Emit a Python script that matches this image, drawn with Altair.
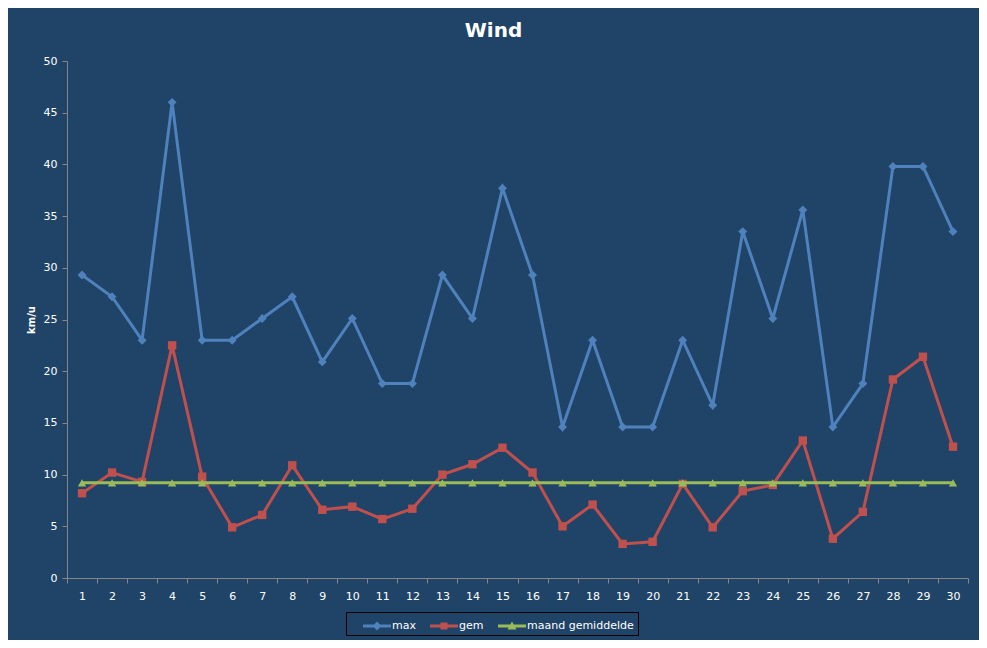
import altair as alt
import pandas as pd

# Daily wind (km/u)
days = list(range(1, 31))
max_wind = [29.3, 27.2, 23.0, 46.0, 23.0, 23.0, 25.1, 27.2, 20.9, 25.1,
            18.8, 18.8, 29.3, 25.1, 37.7, 29.3, 14.6, 23.0, 14.6, 14.6,
            23.0, 16.7, 33.5, 25.1, 35.6, 14.6, 18.8, 39.8, 39.8, 33.5]
gem_wind = [8.2, 10.2, 9.3, 22.5, 9.8, 4.9, 6.1, 10.9, 6.6, 6.9,
            5.7, 6.7, 10.0, 11.0, 12.6, 10.2, 5.0, 7.1, 3.3, 3.5,
            9.1, 4.9, 8.4, 9.0, 13.3, 3.8, 6.4, 19.2, 21.4, 12.7]
maand_gem = [9.2, 9.2, 9.2, 9.2, 9.2, 9.2, 9.2, 9.2, 9.2, 9.2,
             9.2, 9.2, 9.2, 9.2, 9.2, 9.2, 9.2, 9.2, 9.2, 9.2,
             9.2, 9.2, 9.2, 9.2, 9.2, 9.2, 9.2, 9.2, 9.2, 9.2]
y_ticks = [0, 5, 10, 15, 20, 25, 30, 35, 40, 45, 50]

series = ["max", "gem", "maand gemiddelde"]
colors = ["#4F81BD", "#C0504D", "#9BBB59"]
shapes = ["diamond", "square", "triangle-up"]
sizes = [80, 70, 70]

# legend symbols: a line with the marker in the middle
legend_line = "M0.3,-0.15H3.1V0.15H0.3Z"
legend_paths = [
    legend_line + "M1.7,-0.45L2.15,0L1.7,0.45L1.25,0Z",
    legend_line + "M1.35,-0.35H2.05V0.35H1.35Z",
    legend_line + "M1.7,-0.45L2.15,0.35H1.25Z",
]

rows = []
for name, vals in zip(series, [max_wind, gem_wind, maand_gem]):
    for d, v in zip(days, vals):
        rows.append({"day": d, "series": name, "value": v})
df = pd.DataFrame(rows)

axis_grey = "#868686"

x = alt.X("day:O", bandPosition=0.5,
          scale=alt.Scale(type="band", paddingInner=0, paddingOuter=0),
          axis=alt.Axis(title=None, labelAngle=0, tickBand="extent",
                        domainColor=axis_grey, tickColor=axis_grey, tickSize=5,
                        labelColor="white", labelFontSize=11, labelPadding=7))
y = alt.Y("value:Q", scale=alt.Scale(domain=[0, 50]),
          axis=alt.Axis(title="km/u", values=y_ticks, grid=False,
                        domainColor=axis_grey, tickColor=axis_grey, tickSize=5,
                        labelColor="white", labelFontSize=11, labelPadding=5,
                        titleColor="white", titleFontSize=10, titleFontWeight="bold",
                        titlePadding=7))

layers = []
for name, col, shp, sz in zip(series, colors, shapes, sizes):
    part = alt.Chart(df).transform_filter(alt.datum.series == name)
    layers.append(part.mark_line(color=col, strokeWidth=3).encode(x=x, y=y))
    layers.append(part.mark_point(shape=shp, filled=True, size=sz, color=col, opacity=1)
                  .encode(x=x, y=y))

leg = alt.Legend(title=None, orient="none", legendX=279, legendY=551,
                 direction="horizontal", strokeColor="black", padding=4,
                 symbolSize=400, symbolOpacity=1, labelOffset=22, columnPadding=1,
                 labelColor="white", labelFontSize=11, symbolStrokeWidth=0)

legend_layer = alt.Chart(df).transform_filter("datum.value < 0").mark_point(
    filled=True, opacity=1
).encode(
    x=x, y=y,
    color=alt.Color("series:N", scale=alt.Scale(domain=series, range=colors), legend=leg),
    shape=alt.Shape("series:N", scale=alt.Scale(domain=series, range=legend_paths), legend=leg),
)

chart = alt.layer(*layers, legend_layer).properties(
    width=901, height=517,
    title=alt.TitleParams("Wind", fontSize=20, fontWeight="bold", color="white",
                          anchor="middle", offset=14, dx=-24),
    background="#1F4468",
    padding={"left": 59, "top": 53, "right": 11, "bottom": 62},
    autosize=alt.AutoSizeParams(type="none"),
).configure(font="DejaVu Sans").configure_view(strokeWidth=0)

chart.save("out.html", embed_options={"renderer": "svg", "actions": False})
